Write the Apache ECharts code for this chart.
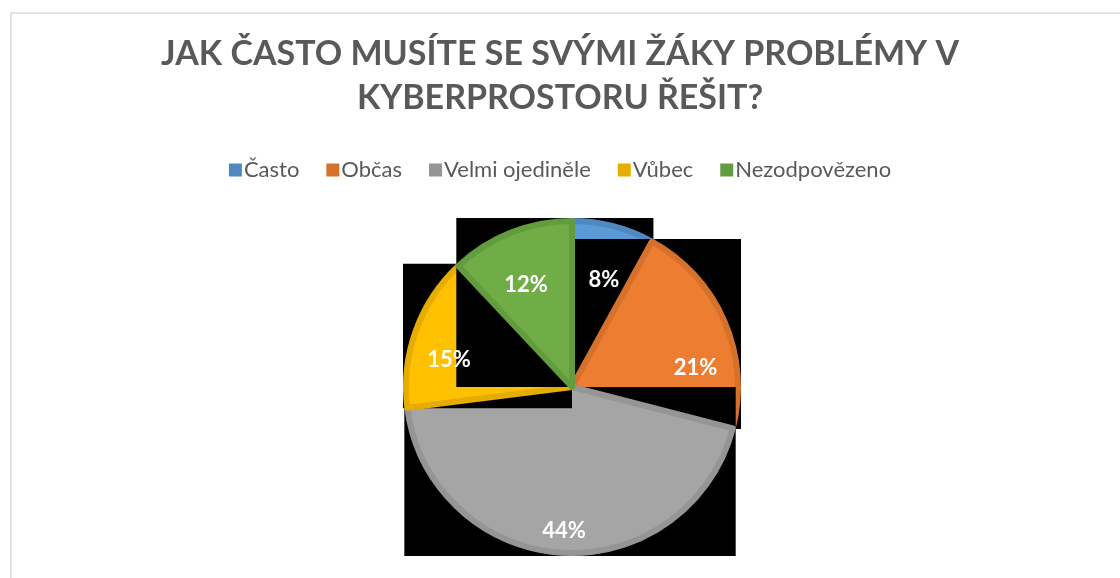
<!DOCTYPE html>
<html><head><meta charset="utf-8">
<script src="https://cdn.jsdelivr.net/npm/echarts@6/dist/echarts.min.js"></script>
<style>html,body{margin:0;padding:0;background:#fff}#c{width:1120px;height:578px}</style>
</head><body><div id="c"></div>
<script>
// ---- data ----
const titleLines = ['JAK ČASTO MUSÍTE SE SVÝMI ŽÁKY PROBLÉMY V', 'KYBERPROSTORU ŘEŠIT?'];
const categories = ['Často', 'Občas', 'Velmi ojediněle', 'Vůbec', 'Nezodpovězeno'];
const values = [8, 21, 44, 15, 12];

// ---- style ----
const fillColors = ['#5B9BD5', '#ED7D31', '#A5A5A5', '#FFC000', '#70AD47'];
const edgeColors = ['#4E89C2', '#D6712C', '#959595', '#E6AD00', '#629C3E'];
// label placement tweaks: [radius fraction, angle shift in degrees]
const labelTweak = [[0.66, 2.2], [0.74, 14.5], [0.85, -0.4], [0.745, -7.4], [0.66, -2.7]];
const FONT = 'Lato, "Open Sans", sans-serif';

const total = values.reduce((a, b) => a + b, 0);
const starts = [];
let acc = 0;
values.forEach(v => { starts.push(acc / total * 100); acc += v; });

function makeRender(i) {
  return function (params, api) {
    const cs = params.coordSys;
    const cx = cs.cx, cy = cs.cy, R = cs.r;
    const v0 = api.value(1), v1 = api.value(2);
    const p0 = api.coord([1, v0]);
    const p1 = api.coord([1, v1]);
    let a0 = Math.atan2(p0[1] - cy, p0[0] - cx);
    let a1 = Math.atan2(p1[1] - cy, p1[0] - cx);
    if (a1 <= a0) a1 += Math.PI * 2;
    const pts = [[cx, cy], p0, p1];
    [0, 25, 50, 75, 100].forEach(c => { if (c > v0 && c < v1) pts.push(api.coord([1, c])); });
    const xs = pts.map(p => p[0]), ys = pts.map(p => p[1]);
    const bx = Math.min(...xs), by = Math.min(...ys);
    const bw = Math.max(...xs) - bx, bh = Math.max(...ys) - by;
    const mid = (v0 + v1) / 2 + labelTweak[i][1] * 100 / 360;
    const lp = api.coord([labelTweak[i][0], mid]);
    return {
      type: 'group',
      children: [
        { type: 'rect', z2: 2 * i, shape: { x: bx, y: by, width: bw, height: bh }, style: { fill: '#000' } },
        { type: 'sector', z2: 2 * i + 1,
          shape: { cx: cx, cy: cy, r0: 0, r: R - 3, startAngle: a0, endAngle: a1, clockwise: true },
          style: { fill: fillColors[i], stroke: edgeColors[i], lineWidth: 6, lineJoin: 'round' } },
        { type: 'text', z2: 100,
          style: { text: Math.round(values[i] / total * 100) + '%', x: lp[0], y: lp[1],
            fill: '#ffffff', font: 'bold 22px ' + FONT, align: 'center', verticalAlign: 'middle' } }
      ]
    };
  };
}

const series = categories.map((name, i) => ({
  name: name,
  type: 'custom',
  coordinateSystem: 'polar',
  itemStyle: { color: edgeColors[i] },
  renderItem: makeRender(i),
  data: [[1, starts[i], starts[i] + values[i] / total * 100]],
  silent: true,
  animation: false
}));

const chart = echarts.init(document.getElementById('c'), null, { renderer: 'canvas' });
chart.setOption({
  backgroundColor: '#ffffff',
  animation: false,
  graphic: [{ type: 'rect', shape: { x: 11, y: 13, width: 1200, height: 700 },
    style: { fill: 'none', stroke: '#D9D9D9', lineWidth: 1.5 }, silent: true }],
  title: {
    text: titleLines.join('\n'),
    left: 'center', top: 27,
    textStyle: { fontFamily: FONT, fontWeight: 'bold', fontSize: 34, lineHeight: 44, color: '#595959' }
  },
  legend: {
    data: categories,
    top: 154, left: 'center',
    icon: 'rect', itemWidth: 13, itemHeight: 13, itemGap: 27,
    textStyle: { fontFamily: FONT, fontSize: 22, color: '#595959', padding: [0, 0, 0, -3] }
  },
  polar: { center: [572, 387], radius: 169 },
  angleAxis: { type: 'value', min: 0, max: 100, startAngle: 90, clockwise: true, show: false },
  radiusAxis: { type: 'value', min: 0, max: 1, show: false },
  series: series
});
</script></body></html>
